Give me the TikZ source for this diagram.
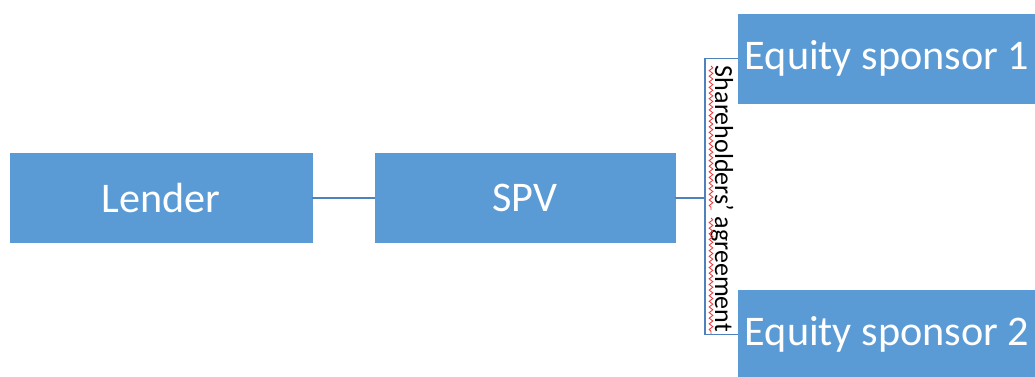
\documentclass[tikz,border=0pt]{standalone}
\usepackage{fontspec}
\setmainfont{Carlito}
\usetikzlibrary{positioning, decorations.pathmorphing}
\definecolor{spvBox}{HTML}{5B9BD5}
\definecolor{spvLine}{HTML}{4F81BD}
\definecolor{spvSpell}{HTML}{E8393A}
\tikzset{
  spvbox/.style={draw=spvBox, fill=spvBox, text=white, align=center,
    minimum height={89*0.025cm}, inner sep=0pt, font=\fontsize{30}{36}\selectfont},
  spvlink/.style={draw=spvLine, line width=1.3pt},
  spvnote/.style={rotate=-90, inner sep=0pt, text=black,
    font=\fontsize{18.5}{22}\selectfont},
  spvwave/.style={draw=spvSpell, line width=0.6pt,
    decorate, decoration={snake, amplitude=1.3, segment length=4}},
}
\begin{document}
\begin{tikzpicture}[x=0.025cm, y=-0.025cm]
  \useasboundingbox (0,0) rectangle (1035,376);

  % --- Parties ------------------------------------------------------------
  \node[spvbox, minimum width={302*0.025cm}] (lender) at (161,198)   {Lender};
  \node[spvbox, minimum width={300*0.025cm}] (spv)    at (525,198)   {SPV};
  \node[spvbox, minimum width={298*0.025cm}] (eqone)  at (887,58.5)  {Equity sponsor 1};
  \node[spvbox, minimum width={298*0.025cm}] (eqtwo)  at (887,334.5) {Equity sponsor 2};

  % --- Agreement bracket --------------------------------------------------
  \coordinate (brk) at (705,198);
  \node[spvnote] (sha) at (722,199) {Shareholders' agreement};

  \draw[spvlink] (lender) -- (spv);
  \draw[spvlink] (spv.east) -- (brk);
  \draw[spvlink] (eqone.west) -| (brk) |- (eqtwo.west);

  % spell-check underline
  \draw[spvwave] (711,66) -- (711,210);
  \draw[spvwave] (711,218) -- (711,334);

\end{tikzpicture}
\end{document}
